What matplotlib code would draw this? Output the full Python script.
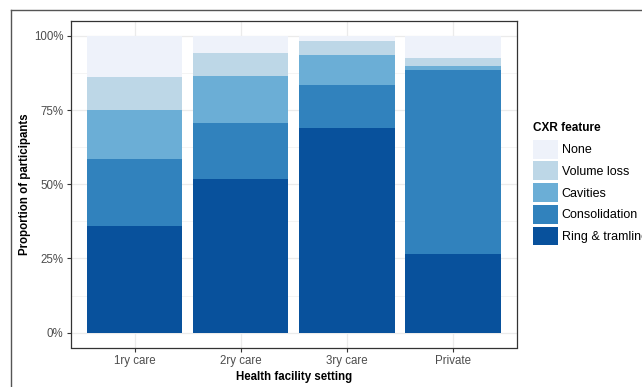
import numpy as np
import matplotlib.pyplot as plt
from matplotlib.lines import Line2D
from matplotlib.patches import Patch

plt.rcParams['font.family'] = ['Liberation Sans', 'DejaVu Sans']

settings = ["1ry care", "2ry care", "3ry care", "Private"]
features = ["Ring & tramline", "Consolidation", "Cavities", "Volume loss", "None"]
# percent of participants per facility setting, bottom to top
ring = [35.9, 51.7, 69.0, 26.6]
consolidation = [22.5, 18.8, 14.6, 61.8]
cavities = [16.6, 16.0, 10.0, 1.4]
volume_loss = [11.2, 7.7, 4.7, 2.8]
none = [13.8, 5.8, 1.7, 7.4]
colors = ["#08519c", "#3182bd", "#6baed6", "#bdd7e7", "#eef2fa"]

W, H = 642, 387
fig = plt.figure(figsize=(W / 100, H / 100), dpi=100)
ax = fig.add_axes([71 / W, 1 - 347.5 / H, (516.5 - 71) / W, (347.5 - 21) / H])

x = np.arange(len(settings))
bottom = np.zeros(len(settings))
series = [ring, consolidation, cavities, volume_loss, none]
for vals, col in zip(series, colors):
    v = np.array(vals) / 100
    ax.bar(x, v, width=0.9, bottom=bottom, color=col, zorder=2, linewidth=0)
    bottom += v

ax.set_xlim(-0.6, len(settings) - 0.4)
ax.set_ylim(-0.05, 1.05)
ax.set_xticks(x)
ax.set_xticklabels(settings)
ax.set_yticks([0, 0.25, 0.5, 0.75, 1.0])
ax.set_yticklabels(["0%", "25%", "50%", "75%", "100%"])
ax.set_yticks([0.125, 0.375, 0.625, 0.875], minor=True)
ax.grid(True, which="major", color="#ebebeb", lw=0.9, zorder=0)
ax.grid(True, which="minor", axis="y", color="#f2f2f2", lw=0.6, zorder=0)
ax.set_axisbelow(True)
ax.tick_params(axis="both", which="major", length=3, width=0.8, color="#333333",
               labelcolor="#4d4d4d", labelsize=8.3, pad=2.5)
ax.tick_params(which="minor", length=0)
for s in ax.spines.values():
    s.set_color("#333333")
    s.set_linewidth(0.9)

ax.set_xlabel("Health facility setting", fontsize=8.3, fontweight="bold", labelpad=3)
ax.set_ylabel("Proportion of participants", fontsize=8.3, fontweight="bold", labelpad=2)

handles = [Patch(facecolor=c, edgecolor="none") for c in colors[::-1]]
leg = fig.legend(handles, features[::-1], title="CXR feature", loc="upper left",
                 bbox_to_anchor=(528 / W, 1 - 117 / H), frameon=False, fontsize=9,
                 title_fontproperties={"weight": "bold", "size": 8.5},
                 handlelength=2.0, handleheight=1.96, labelspacing=0.22,
                 handletextpad=0.3, borderaxespad=0, alignment="left")
leg._legend_box.sep = 4

# outer frame of the cropped figure
fig.add_artist(Line2D([11 / W, 11 / W], [0, 1 - 10 / H], transform=fig.transFigure,
                      color="#555555", lw=1))
fig.add_artist(Line2D([11 / W, 1], [1 - 10 / H, 1 - 10 / H], transform=fig.transFigure,
                      color="#555555", lw=1))

fig.savefig("out.png", dpi=100)
